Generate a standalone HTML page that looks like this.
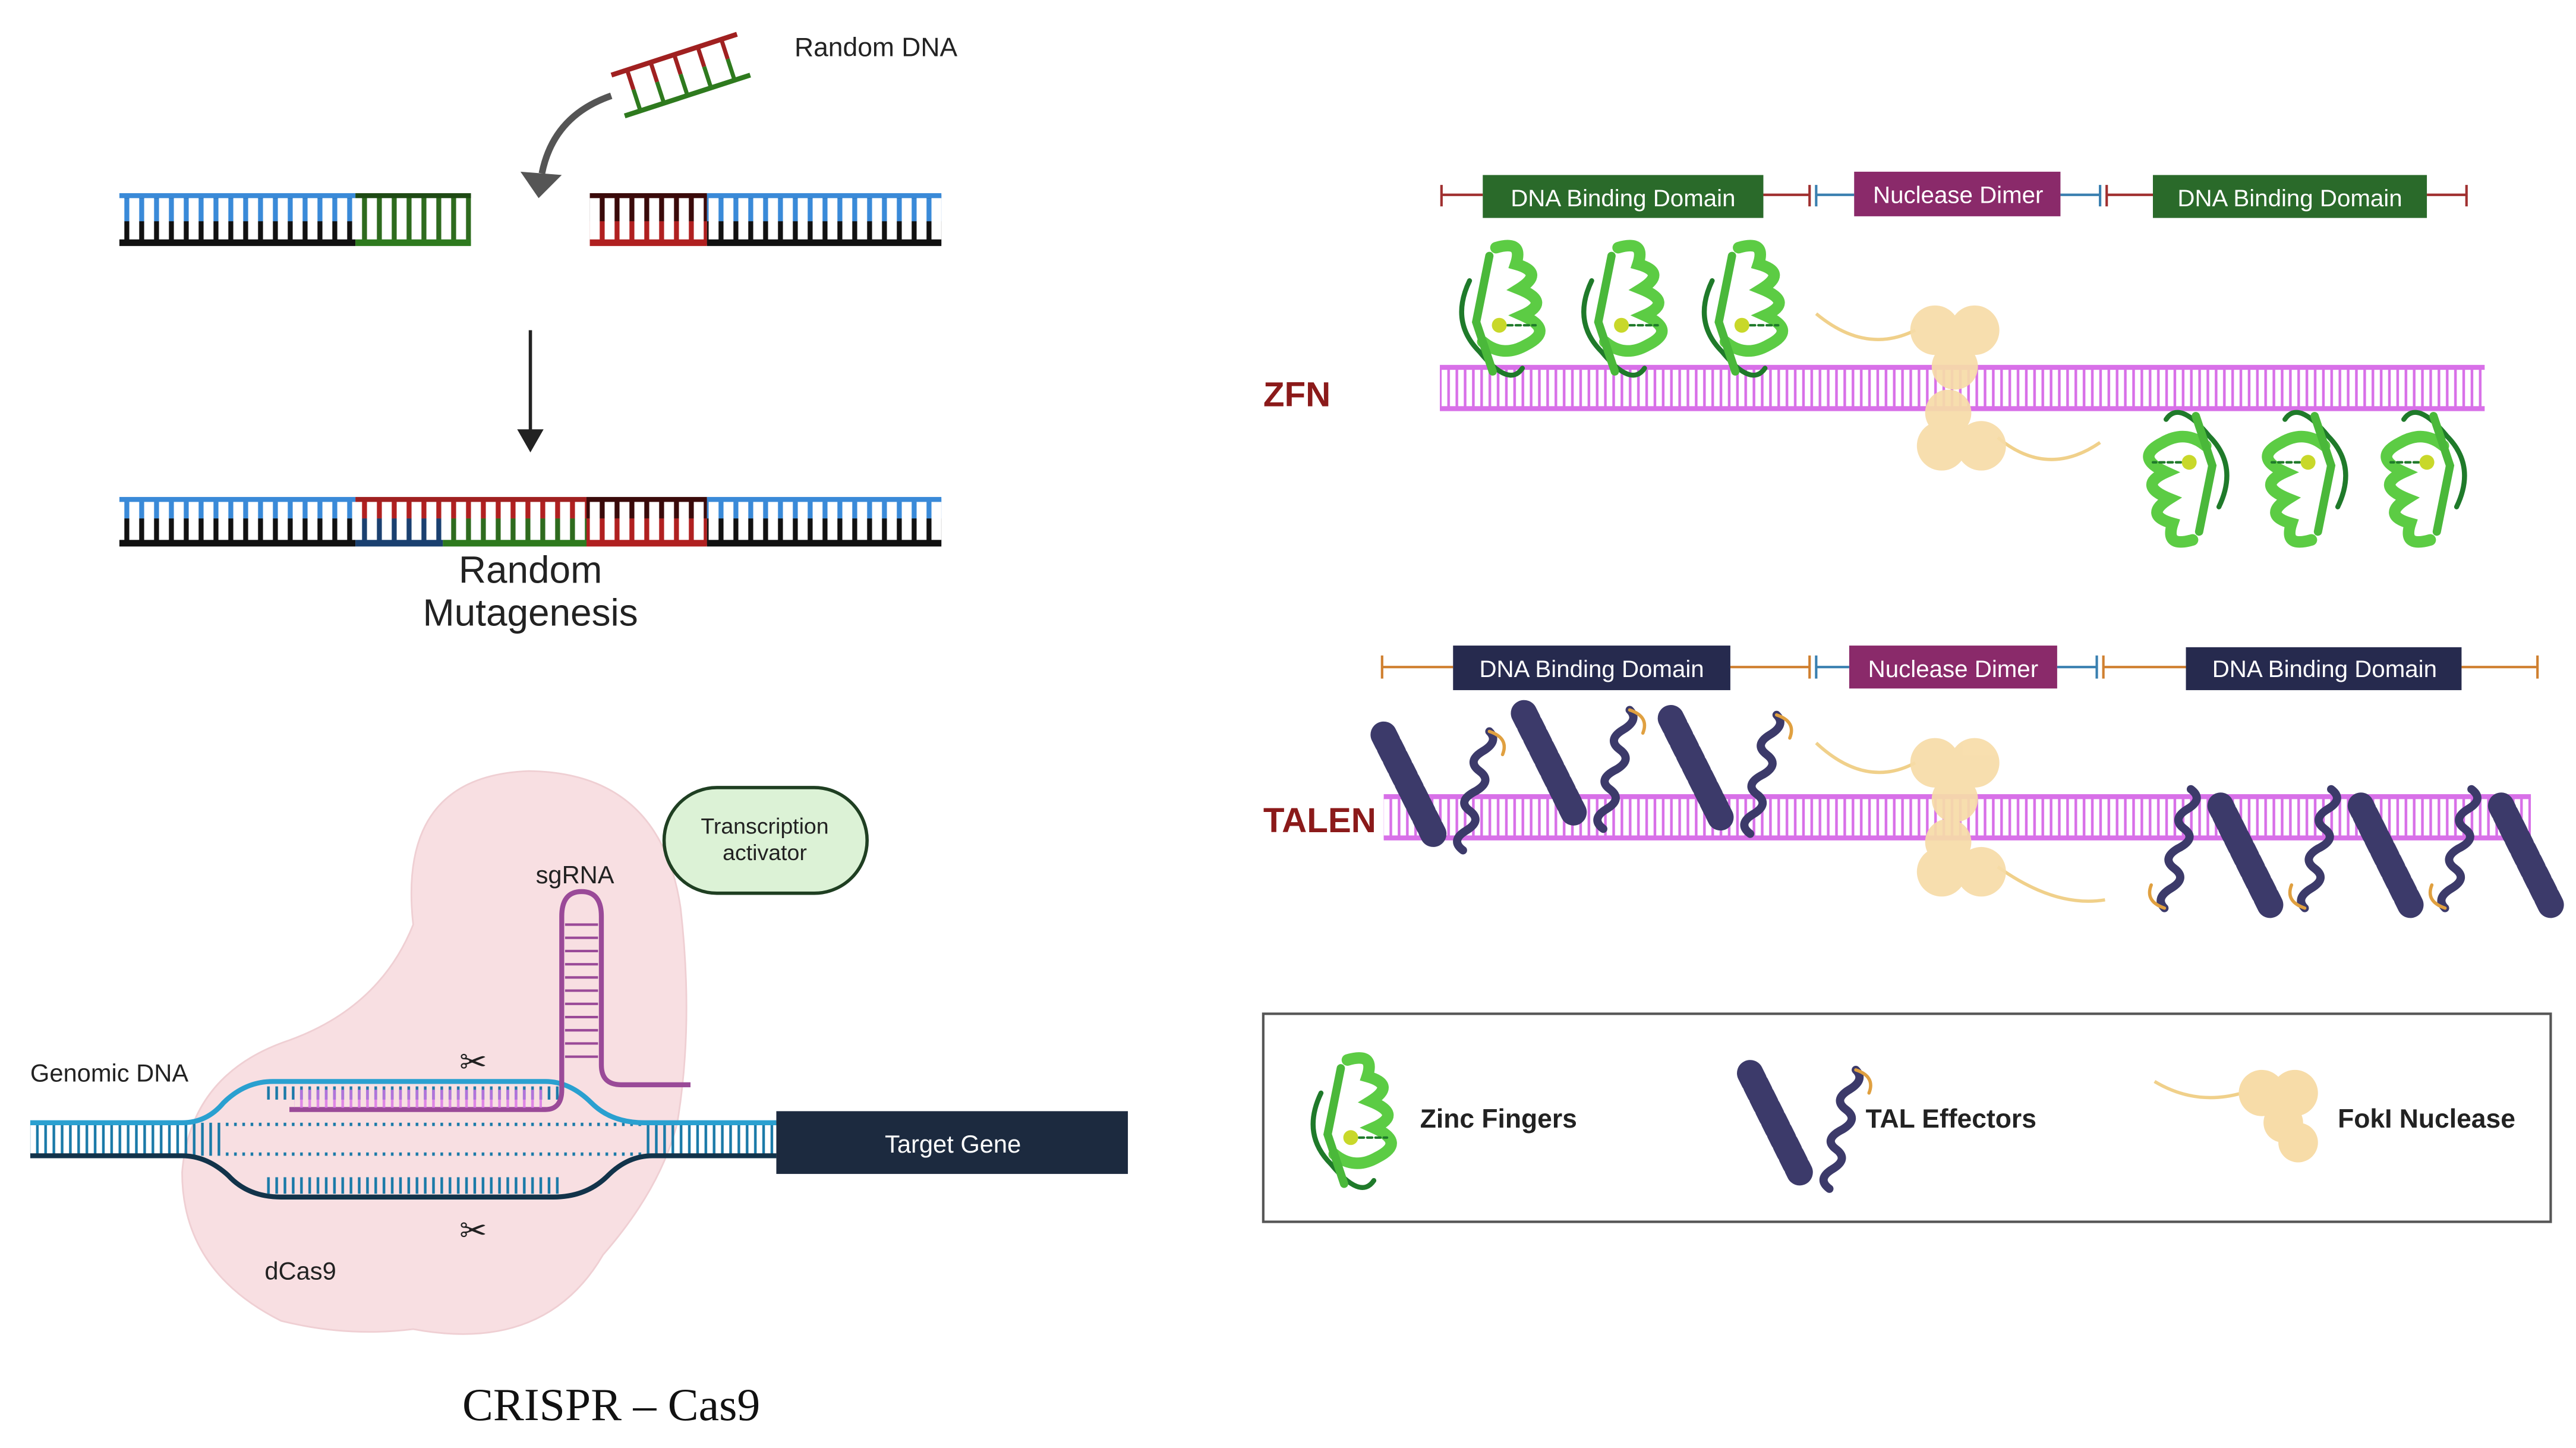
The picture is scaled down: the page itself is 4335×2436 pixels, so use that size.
<!DOCTYPE html>
<html><head><meta charset="utf-8"><style>
html,body{margin:0;padding:0;background:#fff;}
svg{display:block;}
text{font-family:"Liberation Sans",sans-serif;}
</style></head><body>
<svg width="4335" height="2436" viewBox="0 0 1560 877" xmlns="http://www.w3.org/2000/svg">
<defs>
<pattern id="rb" width="9" height="30" patternUnits="userSpaceOnUse"><rect x="3" y="0" width="3" height="14" fill="#3a8ad8"/><rect x="3" y="14" width="3" height="16" fill="#111"/></pattern>
<pattern id="rg" width="9" height="30" patternUnits="userSpaceOnUse"><rect x="3" y="0" width="3" height="30" fill="#2e6b1e"/></pattern>
<pattern id="rr" width="9" height="30" patternUnits="userSpaceOnUse"><rect x="3" y="0" width="3" height="14" fill="#3a0a0a"/><rect x="3" y="14" width="3" height="16" fill="#b02020"/></pattern>
<pattern id="rm1" width="9" height="30" patternUnits="userSpaceOnUse"><rect x="3" y="0" width="3" height="14" fill="#b02020"/><rect x="3" y="14" width="3" height="16" fill="#1a4070"/></pattern>
<pattern id="rm2" width="9" height="30" patternUnits="userSpaceOnUse"><rect x="3" y="0" width="3" height="14" fill="#b02020"/><rect x="3" y="14" width="3" height="16" fill="#2e6b1e"/></pattern>
<pattern id="pk" width="5" height="30" patternUnits="userSpaceOnUse"><rect x="1.5" y="0" width="1.6" height="30" fill="#d870e8"/></pattern>
<pattern id="cr" width="5" height="30" patternUnits="userSpaceOnUse"><rect x="1.5" y="0" width="1.6" height="30" fill="#1a7aa8"/></pattern>
<g id="zf" fill="none" stroke-linecap="round">
<path d="M28 5 Q45 0 40 15 Q58 20 42 30 Q62 38 44 46 Q64 55 46 64 Q32 72 20 62" stroke="#5ccc44" stroke-width="7"/>
<path d="M12 25 Q0 50 18 68 Q36 90 44 78" stroke="#1f7a2a" stroke-width="3"/>
<path d="M24 10 L16 50 L26 80" stroke="#4ab83a" stroke-width="5"/>
<path d="M30 52 L52 52" stroke="#1f7a2a" stroke-width="1.5" stroke-dasharray="3 2"/>
<circle cx="30" cy="52" r="4.5" fill="#c8d82a" stroke="none"/>
</g>
<g id="tal" fill="none" stroke="#3c3a6a" stroke-linecap="round">
<path d="M0 0 L30 60" stroke-width="16" stroke-dasharray="5 3"/>
<path d="M48 70 Q40 64 50 58 Q60 52 52 46 Q44 40 56 34 Q66 28 58 22 Q50 16 60 10 Q70 4 64 -2" stroke-width="5"/>
<path d="M64 -2 Q76 2 72 12" stroke="#e0a040" stroke-width="2"/>
</g>
</defs>

<!-- Random DNA -->
<text x="481" y="34" font-size="16" fill="#222">Random DNA</text>
<g transform="translate(412,45) rotate(-18)">
<rect x="-40" y="-14" width="80" height="3" fill="#a02020"/>
<rect x="-40" y="12" width="80" height="3" fill="#2e7a1e"/>
<g stroke-width="2.5"><line x1="-30" y1="-12" x2="-30" y2="0" stroke="#a02020"/><line x1="-30" y1="0" x2="-30" y2="13" stroke="#2e7a1e"/>
<line x1="-15" y1="-12" x2="-15" y2="0" stroke="#a02020"/><line x1="-15" y1="0" x2="-15" y2="13" stroke="#2e7a1e"/>
<line x1="0" y1="-12" x2="0" y2="0" stroke="#a02020"/><line x1="0" y1="0" x2="0" y2="13" stroke="#2e7a1e"/>
<line x1="15" y1="-12" x2="15" y2="0" stroke="#a02020"/><line x1="15" y1="0" x2="15" y2="13" stroke="#2e7a1e"/>
<line x1="30" y1="-12" x2="30" y2="0" stroke="#a02020"/><line x1="30" y1="0" x2="30" y2="13" stroke="#2e7a1e"/></g>
</g>
<path d="M370 58 Q335 70 328 105" fill="none" stroke="#555" stroke-width="4"/>
<polygon points="315,104 340,106 326,120" fill="#555"/>

<!-- top DNA -->
<rect x="72" y="118" width="143" height="30" fill="url(#rb)"/>
<rect x="215" y="118" width="70" height="30" fill="url(#rg)"/>
<rect x="72" y="117" width="143" height="3" fill="#3a8ad8"/><rect x="72" y="145" width="143" height="4" fill="#111"/>
<rect x="215" y="117" width="70" height="3" fill="#1e4a14"/><rect x="215" y="145" width="70" height="4" fill="#2e7a1e"/>
<rect x="357" y="118" width="71" height="30" fill="url(#rr)"/>
<rect x="428" y="118" width="142" height="30" fill="url(#rb)"/>
<rect x="357" y="117" width="71" height="3" fill="#3a0a0a"/><rect x="357" y="145" width="71" height="4" fill="#b02020"/>
<rect x="428" y="117" width="142" height="3" fill="#3a8ad8"/><rect x="428" y="145" width="142" height="4" fill="#111"/>

<line x1="321" y1="200" x2="321" y2="262" stroke="#222" stroke-width="2"/>
<polygon points="313,260 329,260 321,274" fill="#222"/>

<!-- bottom DNA -->
<rect x="72" y="302" width="143" height="28" fill="url(#rb)"/>
<rect x="215" y="302" width="53" height="28" fill="url(#rm1)"/>
<rect x="268" y="302" width="87" height="28" fill="url(#rm2)"/>
<rect x="355" y="302" width="73" height="28" fill="url(#rr)"/>
<rect x="428" y="302" width="142" height="28" fill="url(#rb)"/>
<rect x="72" y="301" width="143" height="3" fill="#3a8ad8"/><rect x="215" y="301" width="140" height="3" fill="#a02020"/><rect x="355" y="301" width="73" height="3" fill="#3a0a0a"/><rect x="428" y="301" width="142" height="3" fill="#3a8ad8"/>
<rect x="72" y="327" width="143" height="4" fill="#111"/><rect x="215" y="327" width="53" height="4" fill="#1a4070"/><rect x="268" y="327" width="87" height="4" fill="#2e7a1e"/><rect x="355" y="327" width="73" height="4" fill="#b02020"/><rect x="428" y="327" width="142" height="4" fill="#111"/>
<text x="321" y="353" font-size="23" text-anchor="middle" fill="#222">Random</text>
<text x="321" y="379" font-size="23" text-anchor="middle" fill="#222">Mutagenesis</text>

<!-- CRISPR -->
<path d="M250 560 Q240 470 320 467 Q400 468 412 550 Q420 620 410 680 Q400 720 365 760 Q330 820 250 805 Q210 810 170 800 Q110 770 110 710 Q115 650 175 630 Q230 610 250 560 Z" fill="#f8dfe2" stroke="#efcfd3" stroke-width="1"/>
<rect x="402" y="477" width="123" height="64" rx="32" fill="#dcf2d6" stroke="#1f3f22" stroke-width="2"/>
<text x="463" y="505" font-size="13.5" text-anchor="middle" fill="#222">Transcription</text>
<text x="463" y="521" font-size="13.5" text-anchor="middle" fill="#222">activator</text>
<text x="348" y="535" font-size="15" text-anchor="middle" fill="#222">sgRNA</text>
<text x="18" y="655" font-size="15" fill="#222">Genomic DNA</text>
<rect x="18" y="680" width="452" height="20" fill="url(#cr)"/>
<path d="M18 680 L110 680 Q125 680 135 668 Q148 655 165 655 L330 655 Q345 655 358 668 Q370 680 390 680 L470 680" fill="none" stroke="#2aa0d0" stroke-width="3"/>
<path d="M18 700 L110 700 Q125 700 138 712 Q150 725 170 725 L335 725 Q355 725 368 712 Q380 700 395 700 L470 700" fill="none" stroke="#12334a" stroke-width="3"/>
<rect x="135" y="682" width="255" height="16" fill="#f8dfe2"/>
<rect x="160" y="658" width="180" height="8" fill="url(#cr)"/>
<rect x="160" y="713" width="180" height="10" fill="url(#cr)"/>
<path d="M175 672 L330 672 Q340 672 340 660 L340 555 Q340 540 352 540 Q364 540 364 555 L364 645 Q364 657 376 657 L418 657" fill="none" stroke="#9a4a98" stroke-width="3"/>
<rect x="178" y="660" width="150" height="11" fill="url(#pk)" opacity="0.8"/>
<g stroke="#9a4a98" stroke-width="1.5"><line x1="342" y1="560" x2="362" y2="560"/><line x1="342" y1="568" x2="362" y2="568"/><line x1="342" y1="576" x2="362" y2="576"/><line x1="342" y1="584" x2="362" y2="584"/><line x1="342" y1="592" x2="362" y2="592"/><line x1="342" y1="600" x2="362" y2="600"/><line x1="342" y1="608" x2="362" y2="608"/><line x1="342" y1="616" x2="362" y2="616"/><line x1="342" y1="624" x2="362" y2="624"/><line x1="342" y1="632" x2="362" y2="632"/><line x1="342" y1="640" x2="362" y2="640"/></g>
<text x="278" y="650" font-size="20" fill="#222">✂</text>
<text x="278" y="752" font-size="20" fill="#222">✂</text>
<rect x="470" y="673" width="213" height="38" fill="#1c2a3f"/>
<text x="577" y="698" font-size="15" text-anchor="middle" fill="#fff">Target Gene</text>
<text x="160" y="775" font-size="15" fill="#222">dCas9</text>
<text x="370" y="860" font-size="28" text-anchor="middle" fill="#111" style="font-family:'Liberation Serif',serif">CRISPR – Cas9</text>

<!-- ZFN -->
<text x="765" y="246" font-size="21" font-weight="bold" fill="#8b1a1a">ZFN</text>
<g stroke-width="1.5">
<line x1="873" y1="118" x2="898" y2="118" stroke="#a03030"/><line x1="873" y1="112" x2="873" y2="125" stroke="#a03030"/>
<line x1="1068" y1="118" x2="1096" y2="118" stroke="#a03030"/><line x1="1096" y1="112" x2="1096" y2="125" stroke="#a03030"/>
<line x1="1100" y1="118" x2="1123" y2="118" stroke="#3a80b0"/><line x1="1100" y1="112" x2="1100" y2="125" stroke="#3a80b0"/>
<line x1="1248" y1="118" x2="1272" y2="118" stroke="#3a80b0"/><line x1="1272" y1="112" x2="1272" y2="125" stroke="#3a80b0"/>
<line x1="1276" y1="118" x2="1304" y2="118" stroke="#a03030"/><line x1="1276" y1="112" x2="1276" y2="125" stroke="#a03030"/>
<line x1="1470" y1="118" x2="1494" y2="118" stroke="#a03030"/><line x1="1494" y1="112" x2="1494" y2="125" stroke="#a03030"/>
</g>
<rect x="898" y="106" width="170" height="26" fill="#2a6a2a"/><text x="983" y="125" font-size="14.5" text-anchor="middle" fill="#fff">DNA Binding Domain</text>
<rect x="1123" y="104" width="125" height="27" fill="#8a2a6a"/><text x="1186" y="123" font-size="14.5" text-anchor="middle" fill="#fff">Nuclease Dimer</text>
<rect x="1304" y="106" width="166" height="26" fill="#2a6a2a"/><text x="1387" y="125" font-size="14.5" text-anchor="middle" fill="#fff">DNA Binding Domain</text>
<rect x="872" y="223" width="633" height="25" fill="url(#pk)"/>
<rect x="872" y="221" width="633" height="3" fill="#d870e8"/><rect x="872" y="246" width="633" height="3" fill="#d870e8"/>

<use href="#zf" x="878" y="145"/><use href="#zf" x="952" y="145"/><use href="#zf" x="1025" y="145"/>
<g transform="translate(1500,332) rotate(180)"><use href="#zf" x="0" y="0"/><use href="#zf" x="72" y="0"/><use href="#zf" x="144" y="0"/></g>
<path d="M1100 190 Q1130 215 1160 200" fill="none" stroke="#f0d08a" stroke-width="2"/>
<path d="M1210 265 Q1240 290 1272 268" fill="none" stroke="#f0d08a" stroke-width="2"/>
<g fill="#f7dca8" opacity="0.92"><circle cx="1172" cy="200" r="15"/><circle cx="1196" cy="200" r="15"/><circle cx="1184" cy="222" r="14"/><circle cx="1180" cy="250" r="14"/><circle cx="1176" cy="270" r="15"/><circle cx="1200" cy="270" r="15"/></g>

<!-- TALEN -->
<text x="765" y="504" font-size="21" font-weight="bold" fill="#8b1a1a">TALEN</text>
<g stroke-width="1.5">
<line x1="837" y1="404" x2="880" y2="404" stroke="#d08030"/><line x1="837" y1="397" x2="837" y2="411" stroke="#d08030"/>
<line x1="1048" y1="404" x2="1096" y2="404" stroke="#d08030"/><line x1="1096" y1="397" x2="1096" y2="411" stroke="#d08030"/>
<line x1="1100" y1="404" x2="1120" y2="404" stroke="#3a80b0"/><line x1="1100" y1="397" x2="1100" y2="411" stroke="#3a80b0"/>
<line x1="1246" y1="404" x2="1270" y2="404" stroke="#3a80b0"/><line x1="1270" y1="397" x2="1270" y2="411" stroke="#3a80b0"/>
<line x1="1274" y1="404" x2="1324" y2="404" stroke="#d08030"/><line x1="1274" y1="397" x2="1274" y2="411" stroke="#d08030"/>
<line x1="1491" y1="404" x2="1537" y2="404" stroke="#d08030"/><line x1="1537" y1="397" x2="1537" y2="411" stroke="#d08030"/>
</g>
<rect x="880" y="391" width="168" height="27" fill="#262a4e"/><text x="964" y="410" font-size="14.5" text-anchor="middle" fill="#fff">DNA Binding Domain</text>
<rect x="1120" y="391" width="126" height="26" fill="#8a2a6a"/><text x="1183" y="410" font-size="14.5" text-anchor="middle" fill="#fff">Nuclease Dimer</text>
<rect x="1324" y="392" width="167" height="26" fill="#262a4e"/><text x="1408" y="410" font-size="14.5" text-anchor="middle" fill="#fff">DNA Binding Domain</text>
<rect x="838" y="483" width="695" height="25" fill="url(#pk)"/>
<rect x="838" y="481" width="695" height="3" fill="#d870e8"/><rect x="838" y="506" width="695" height="3" fill="#d870e8"/>
<use href="#tal" x="838" y="445"/><use href="#tal" x="923" y="432"/><use href="#tal" x="1012" y="435"/>
<g transform="translate(1545,548) rotate(180)"><use href="#tal" x="0" y="0"/><use href="#tal" x="85" y="0"/><use href="#tal" x="170" y="0"/></g>
<path d="M1100 450 Q1130 478 1160 462" fill="none" stroke="#f0d08a" stroke-width="2"/>
<path d="M1210 525 Q1245 550 1275 545" fill="none" stroke="#f0d08a" stroke-width="2"/>
<g fill="#f7dca8" opacity="0.92"><circle cx="1172" cy="462" r="15"/><circle cx="1196" cy="462" r="15"/><circle cx="1184" cy="484" r="14"/><circle cx="1180" cy="510" r="14"/><circle cx="1176" cy="528" r="15"/><circle cx="1200" cy="528" r="15"/></g>

<!-- legend -->
<rect x="765" y="614" width="780" height="126" fill="#fff" stroke="#555" stroke-width="1.5"/>
<use href="#zf" x="788" y="637"/>
<text x="860" y="683" font-size="16" font-weight="bold" fill="#222">Zinc Fingers</text>
<use href="#tal" x="1060" y="650"/>
<text x="1130" y="683" font-size="16" font-weight="bold" fill="#222">TAL Effectors</text>
<path d="M1305 655 Q1330 670 1358 662" fill="none" stroke="#f0d08a" stroke-width="2"/>
<g fill="#f7dca8"><circle cx="1370" cy="662" r="14"/><circle cx="1390" cy="662" r="14"/><circle cx="1383" cy="680" r="12"/><circle cx="1392" cy="692" r="12"/></g>
<text x="1416" y="683" font-size="16" font-weight="bold" fill="#222">FokI Nuclease</text>
</svg>
</body></html>
